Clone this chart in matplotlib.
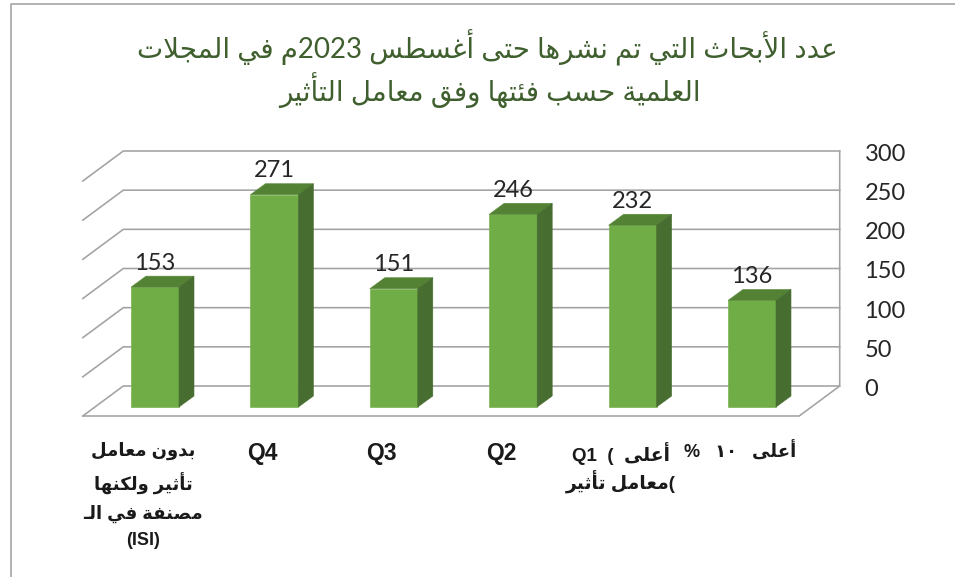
import re
import matplotlib
matplotlib.use("Agg")
import matplotlib.pyplot as plt
from matplotlib.lines import Line2D
from matplotlib.patches import Polygon
from matplotlib.transforms import Affine2D

# ---------- data ----------
categories = ["بدون معامل\nتأثير ولكنها\nمصنفة في الـ\n(ISI)", "Q4", "Q3", "Q2",
              "أعلى  (  Q1\n(معامل تأثير", "أعلى   ١٠   %"]
label_sizes = [13, 16.5, 16.5, 16.5, 13.5, 13]
label_spacing = [1.7, 1.7, 1.7, 1.7, 1.25, 1.7]
values = [153, 271, 151, 246, 232, 136]
value_ticks = [0, 50, 100, 150, 200, 250, 300]
title_lines = ["عدد الأبحاث التي تم نشرها حتى أغسطس 2023م في المجلات",
               "العلمية حسب فئتها وفق معامل التأثير"]

# ---------- Arabic shaping (matplotlib has no text shaping of its own) ----------
_TWO = "آأؤإاةدذرزوى"
_order = "ءآأؤإئابةتثجحخدذرزسشصضطظعغفقكلمنهوىي"
FORMS = {}
_cp = 0xFE80
for _c in _order:
    if _c == "ء":
        FORMS[_c] = (_cp, None, None, None); _cp += 1
    elif _c in _TWO:
        FORMS[_c] = (_cp, _cp + 1, None, None); _cp += 2
    else:
        FORMS[_c] = (_cp, _cp + 1, _cp + 2, _cp + 3); _cp += 4
LAM_ALEF = {"آ": 0xFEF5, "أ": 0xFEF7, "إ": 0xFEF9, "ا": 0xFEFB}


def shape_word(s):
    out = []
    i = 0
    prev_joins = False
    while i < len(s):
        c = s[i]
        if c == "ـ":
            out.append(c); prev_joins = True; i += 1; continue
        if c == "ل" and i + 1 < len(s) and s[i + 1] in LAM_ALEF:
            out.append(chr(LAM_ALEF[s[i + 1]] + (1 if prev_joins else 0)))
            prev_joins = False
            i += 2
            continue
        if c not in FORMS:
            out.append(c); prev_joins = False; i += 1; continue
        f = FORMS[c]
        nxt = s[i + 1] if i + 1 < len(s) else ""
        next_ok = (nxt in FORMS and nxt != "ء") or nxt == "ـ"
        can_join_next = f[2] is not None
        if prev_joins and f[1] is None:
            prev_joins = False
        if prev_joins and can_join_next and next_ok:
            g = f[3]
        elif prev_joins:
            g = f[1]
        elif can_join_next and next_ok:
            g = f[2]
        else:
            g = f[0]
        out.append(chr(g))
        prev_joins = can_join_next
        i += 1
    return "".join(out)


def visual(line):
    runs = re.split(r"(\([A-Za-z0-9]+\)|[A-Za-z0-9٠-٩]+)", line)
    parts = []
    for k, r in enumerate(runs):
        parts.append(r if k % 2 else shape_word(r)[::-1])
    return "".join(parts[::-1])


def visual_multi(text):
    return "\n".join(visual(l) for l in text.split("\n"))


# ---------- figure ----------
W, H = 955, 577
DPI = 100
fig = plt.figure(figsize=(W / DPI, H / DPI), dpi=DPI, facecolor="white")
ax_left, ax_base, ax_w, ax_h = 95.3, 407, 716.4, 235
ax = fig.add_axes([ax_left / W, (H - ax_base) / H, ax_w / W, ax_h / H])
ax.set_xlim(-0.5, len(values) - 0.5)
ax.set_ylim(0, value_ticks[-1])
ax.patch.set_alpha(0)
for s in ax.spines.values():
    s.set_visible(False)

px_x = ax_w / len(values)
px_y = ax_h / value_ticks[-1]


def proj(x, v, dx_px, dy_px):
    return x + dx_px / px_x, v + dy_px / px_y


GRID = "#a2a2a2"
LW = 1.15
xl, xr = -0.5, len(values) - 0.5
FRONT = (-12.5, -9)
BACK = (28, 21)
for v in value_ticks:
    pts = [proj(xl, v, *FRONT), proj(xl, v, *BACK), proj(xr, v, *BACK)]
    ax.plot(*zip(*pts), color=GRID, lw=LW, clip_on=False, zorder=1)
pts = [proj(xl, 0, *FRONT), proj(xr, 0, *FRONT), proj(xr, 0, *BACK),
       proj(xr, value_ticks[-1], *BACK)]
ax.plot(*zip(*pts), color=GRID, lw=LW, clip_on=False, zorder=1)

# bars
BAR_W = 0.402
DEPTH = (15, 11)
positions = list(range(len(values)))
bars = ax.bar(positions, values, width=BAR_W, color="#70ad47", edgecolor="#78b352",
              linewidth=0.5, zorder=3, clip_on=False)
for x, v in zip(positions, values):
    l, r = x - BAR_W / 2, x + BAR_W / 2
    top = [(l, v), (r, v), proj(r, v, *DEPTH), proj(l, v, *DEPTH)]
    side = [(r, 0), (r, v), proj(r, v, *DEPTH), proj(r, 0, *DEPTH)]
    ax.add_patch(Polygon(top, closed=True, fc="#548235", ec="#5a8a3a", lw=0.4,
                         zorder=3, clip_on=False))
    ax.add_patch(Polygon(side, closed=True, fc="#476d30", ec="#476d30", lw=0.4,
                         zorder=3, clip_on=False))
    ax.annotate(str(v), (x, v), xytext=(0, 24), textcoords="offset pixels",
                ha="center", va="center", fontsize=17, family="Lato",
                color="#262626", zorder=4, annotation_clip=False)

# value axis, drawn at the back wall
ax.yaxis.tick_right()
ax.set_yticks(value_ticks)
ax.set_yticklabels([str(v) for v in value_ticks], fontsize=17, family="Lato",
                   color="#262626", ha="left", va="center")
ax.tick_params(axis="y", length=0, pad=38)
for lab in ax.get_yticklabels():
    lab.set_transform(lab.get_transform() + Affine2D().translate(0, 17.5))

# category axis, drawn under the floor
ax.set_xticks(positions)
ax.set_xticklabels([visual_multi(c) for c in categories], fontweight="bold",
                   family=["Liberation Sans", "DejaVu Sans"], color="#1a1a1a",
                   ha="center", va="top")
ax.tick_params(axis="x", length=0, pad=25)
for lab, size, sp in zip(ax.get_xticklabels(), label_sizes, label_spacing):
    lab.set_fontsize(size)
    lab.set_linespacing(sp)
    lab.set_transform(lab.get_transform() + Affine2D().translate(-12, 0))

# title
fig.text(487 / W, 1 - 48 / H, visual(title_lines[0]), ha="center", va="center",
         fontsize=20, color="#3f5f2e", family=["Lato", "DejaVu Sans"])
fig.text(490 / W, 1 - 90 / H, visual(title_lines[1]), ha="center", va="center",
         fontsize=20, color="#3f5f2e", family=["Lato", "DejaVu Sans"])

# chart frame (only top and left edges are inside the crop)
fig.add_artist(Line2D([10.5 / W, 10.5 / W, 1], [0, 1 - 3.5 / H, 1 - 3.5 / H],
                      transform=fig.transFigure, color="#a6a6a6", lw=1.2))

fig.savefig("out.png", dpi=DPI, facecolor="white")
